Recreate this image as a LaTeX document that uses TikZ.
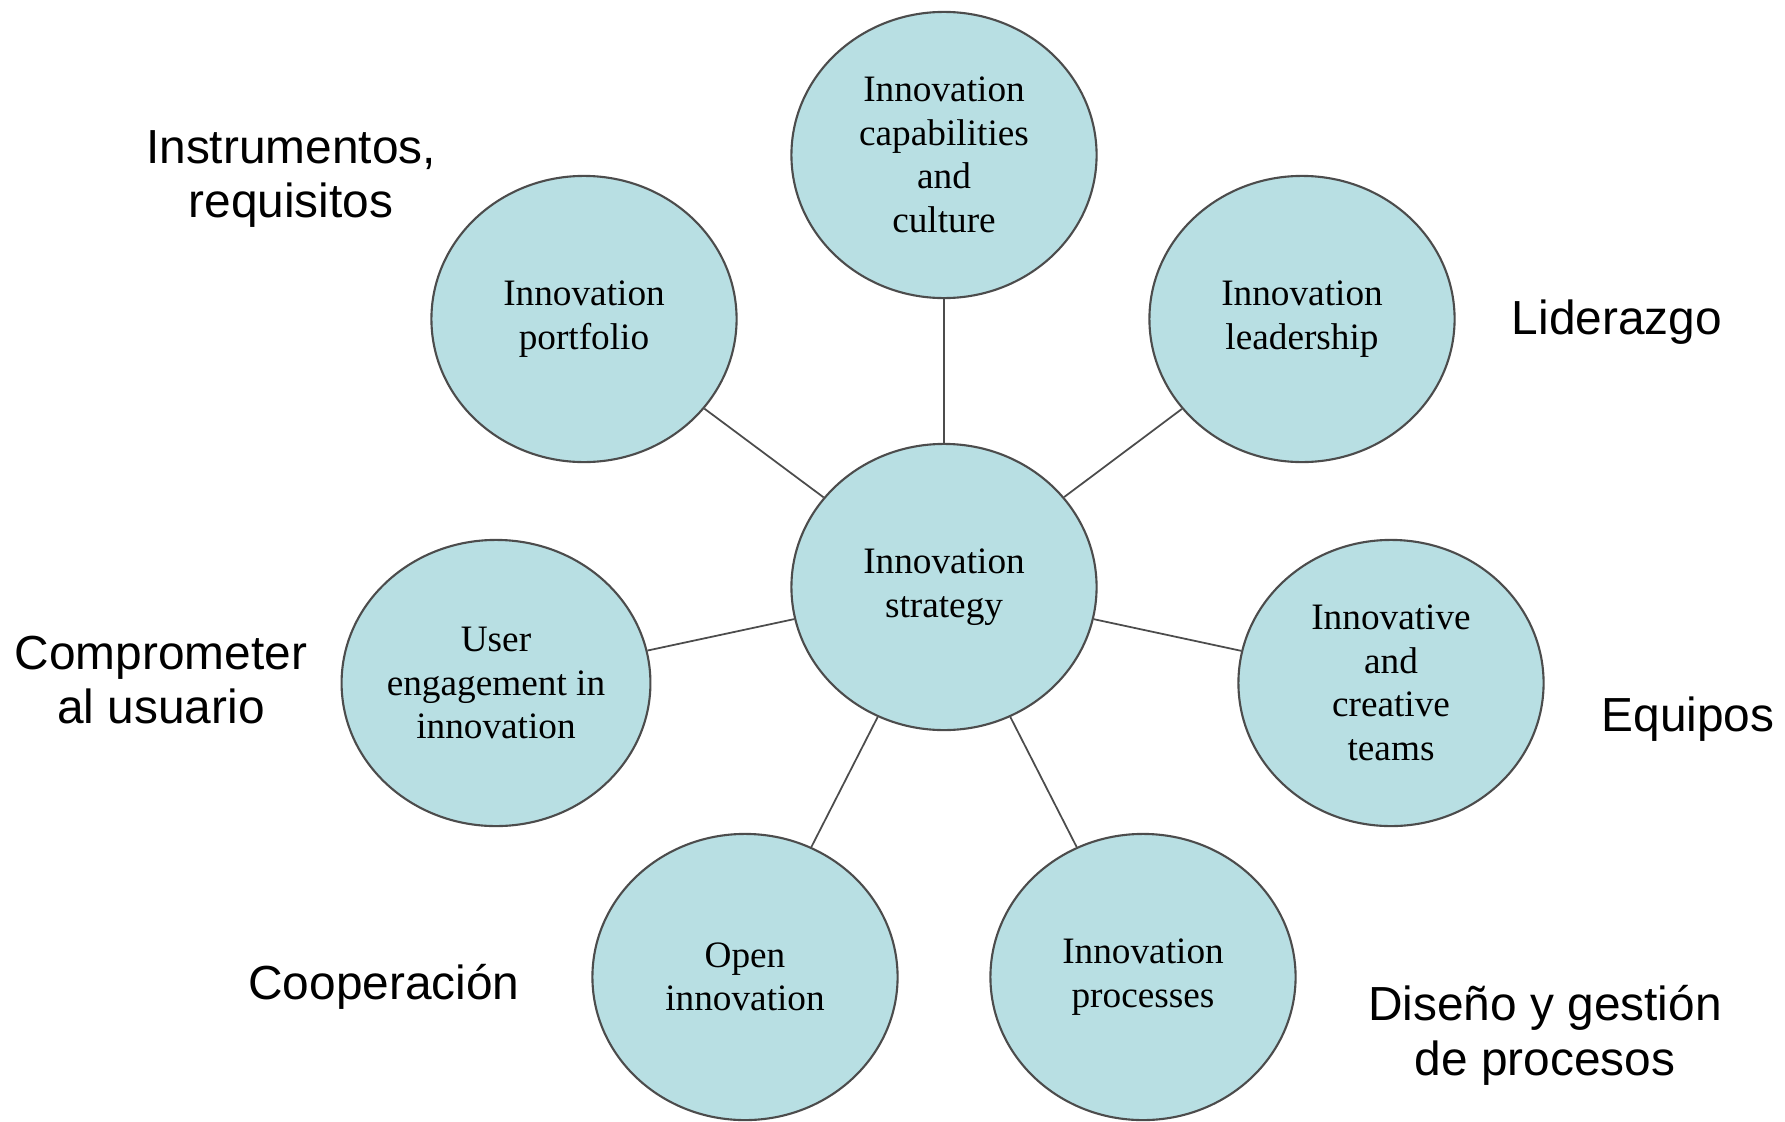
\documentclass[tikz,border=0pt]{standalone}
\usepackage{fontspec}
\setmainfont{Liberation Serif}
\newfontfamily\labelfont{Liberation Sans}
\usetikzlibrary{shapes.geometric}
\definecolor{bubblefill}{HTML}{B8DFE3}
\tikzset{
  bubble/.style={ellipse, draw=black!70, line width=0.6pt, fill=bubblefill,
    minimum width=3.05cm, minimum height=2.86cm, inner sep=0pt, align=center,
    font=\fontsize{10.6}{12.4}\selectfont},
  tag/.style={align=center, font=\labelfont\fontsize{13.6}{15.6}\selectfont},
  spoke/.style={draw=black!70, line width=0.5pt}
}
\begin{document}
\begin{tikzpicture}[x=0.01cm, y=-0.01cm]
		\useasboundingbox (0,0) rectangle (1785,1121);
		% bubbles
		\node[bubble] (strategy) at (944,587) {Innovation\\strategy};
		\node[bubble] (culture) at (944,155) {Innovation\\capabilities\\and\\culture};
		\node[bubble] (portfolio) at (584,319) {Innovation\\portfolio};
		\node[bubble] (leadership) at (1302,319) {Innovation\\leadership};
		\node[bubble] (user) at (496,683) {User\\engagement in\\innovation};
		\node[bubble] (teams) at (1391,683) {Innovative\\and\\creative\\teams};
		\node[bubble] (open) at (745,977) {Open\\innovation};
		\node[bubble] (processes) at (1143,977) {Innovation\\processes};
		% spokes
		\foreach \b in {culture,portfolio,leadership,user,teams,open,processes}
			\draw[spoke] (strategy) -- (\b);
		% spanish tags
		\node[tag] (tagportfolio) at (291,179) {Instrumentos,\\requisitos};
		\node[tag] (tagleadership) at (1617,322) {Liderazgo};
		\node[tag] (taguser) at (161,680) {Comprometer\\al usuario};
		\node[tag] (tagteams) at (1688,719) {Equipos};
		\node[tag] (tagopen) at (384,987) {Cooperación};
		\node[tag] (tagprocesses) at (1545,1035) {Diseño y gestión\\de procesos};
		\end{tikzpicture}
\end{document}
